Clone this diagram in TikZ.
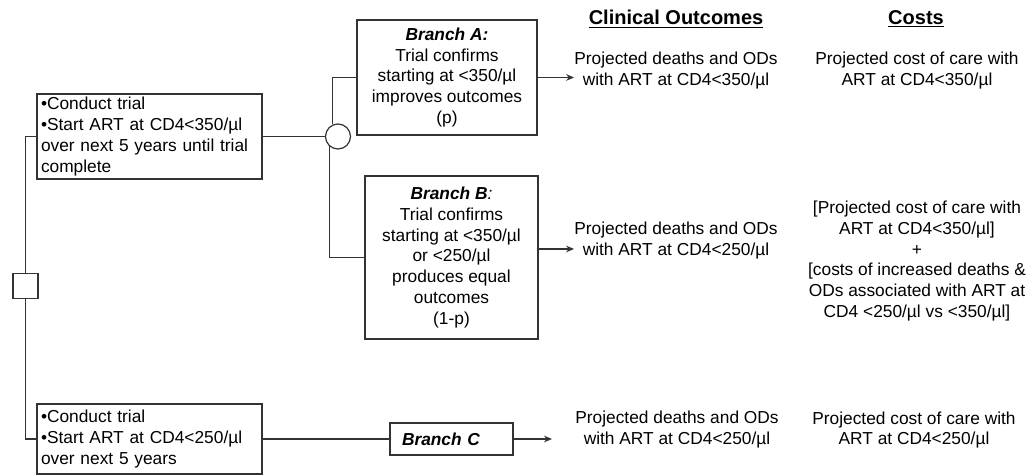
\documentclass[tikz,border=0pt]{standalone}
\usepackage{fontspec}
\setmainfont{Liberation Sans}
\usetikzlibrary{arrows.meta}

\begin{document}
\begin{tikzpicture}[x=0.75pt, y=-0.75pt,
  every node/.style={font=\fontsize{13pt}{15.6pt}\selectfont},
  box/.style={draw=black!80, line width=0.9pt, align=center, inner sep=0pt},
  trialbox/.style={box, align=left, inner xsep=3pt, text width=162.75pt},
  head/.style={font=\fontsize{15pt}{18pt}\selectfont\bfseries},
  txt/.style={align=center, inner sep=0pt},
  link/.style={draw=black!80, line width=0.9pt},
  arr/.style={link, -{Stealth[length=6pt, width=5pt]}}]
\useasboundingbox (0,0) rectangle (1035,475);

\node [head] (hout) at (676,19) {\underline{Clinical Outcomes}};
\node [head] (hcost) at (916,19) {\underline{Costs}};

\node [trialbox, minimum height=63.75pt] (t350) at (149.5,136.5)
  {•Conduct trial\\•Start ART at CD4<350/µl\\over next 5 years until trial\\complete};
\node [trialbox, minimum height=52.5pt] (t250) at (149.5,439)
  {•Conduct trial\\•Start ART at CD4<250/µl\\over next 5 years};

\node [box, minimum size=18.75pt] (decision) at (25.5,286) {};
\node [draw=black!80, line width=0.9pt, circle, fill=white, minimum size=18.75pt, inner sep=0pt] (chance) at (338,136.5) {};

\node [box, minimum width=135pt, minimum height=86.25pt] (brA) at (447,77.5)
  {\textbf{\textit{Branch A:}}\\Trial confirms\\starting at <350/µl\\improves outcomes\\(p)};
\node [box, minimum width=129.75pt, minimum height=122.25pt] (brB) at (451.5,257.5)
  {\textbf{\textit{Branch B}}\textit{:}\\Trial confirms\\starting at <350/µl\\or <250/µl\\produces equal\\outcomes\\(1-p)};
\node [box, align=left, inner xsep=9pt, text width=74.25pt, minimum height=24pt] (brC) at (451.5,439)
  {\textbf{\textit{Branch C}}};

\node [txt] (outA) at (676,70.5) {Projected deaths and ODs\\with ART at CD4<350/µl};
\node [txt] (outB) at (676,240.5) {Projected deaths and ODs\\with ART at CD4<250/µl};
\node [txt] (outC) at (677,429.5) {Projected deaths and ODs\\with ART at CD4<250/µl};

\node [txt] (costA) at (917,70.5) {Projected cost of care with\\ART at CD4<350/µl};
\node [txt] (costB) at (917,261)
  {[Projected cost of care with\\ART at CD4<350/µl]\\+\\{}[costs of increased deaths \&\\ODs associated with ART at\\CD4 <250/µl vs <350/µl]};
\node [txt] (costC) at (914,430) {Projected cost of care with\\ART at CD4<250/µl};

\coordinate (tipC) at (552,439);

\draw [link] (decision) |- (t350);
\draw [link] (decision) |- (t250);
\draw [link] (t350) -- (chance);
\draw [link] (chance.113) |- (brA);
\draw [link] (chance.229) |- (brB);
\draw [link] (t250) -- (brC);
\draw [arr] (brA) -- (brA.east -| outA.west);
\draw [arr] ([yshift=6.4pt]brB.east) -- ([yshift=6.4pt]brB.east -| outB.west);
\draw [arr] (brC) -- (tipC);
\end{tikzpicture}
\end{document}
